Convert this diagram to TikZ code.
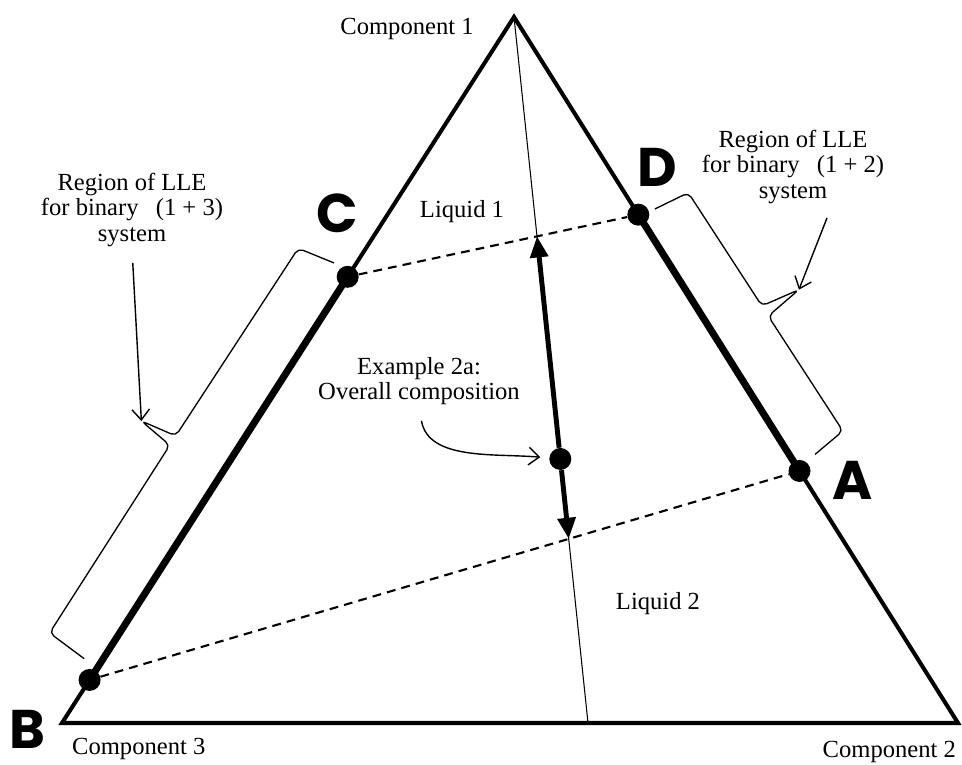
\documentclass[tikz,border=0pt]{standalone}
\usepackage{fontspec}
\setmainfont{Liberation Serif}
\newfontfamily\ptfont{Poppins}
\usetikzlibrary{calc,arrows.meta}

\begin{document}
\begin{tikzpicture}[x=0.02cm,y=0.02cm,
    edge/.style={line width=2.3pt,line join=miter},
    lle/.style={line width=4pt},
    tie/.style={line width=1.2pt,dash pattern=on 5pt off 3.5pt},
    dot/.style={circle,fill=black,inner sep=0pt,minimum size=0.44cm},
    ptlabel/.style={font=\ptfont\bfseries\fontsize{31}{31}\selectfont,inner sep=0pt},
    txt/.style={font=\fontsize{14}{14.5}\selectfont,align=center,inner sep=1pt},
    brace/.style={line width=0.75pt,rounded corners=3pt},
    pointer/.style={line width=0.8pt,-{Straight Barb[length=6pt,width=10pt]}},
    split/.style={line width=2.8pt,-{Triangle[length=12pt,width=10pt]}}]

\useasboundingbox (0,0) rectangle (962,764);

\coordinate (T) at (514,747);
\coordinate (BL) at (62,41);
\coordinate (BR) at (958,41);
\coordinate (M) at (588,41);

% triangle and line through overall composition
\draw[edge] (BL) -- (T) -- (BR) -- cycle;
\draw[line width=0.6pt] (T) -- (M);

% end points of the binary LLE regions
\coordinate (Bd) at ($(BL)!0.061!(T)$);
\coordinate (Cd) at ($(BL)!0.632!(T)$);
\coordinate (Dd) at ($(T)!0.28!(BR)$);
\coordinate (Ad) at ($(T)!0.643!(BR)$);
\coordinate (Od) at ($(T)!0.626!(M)$);

\draw[lle] (Bd) -- (Cd);
\draw[lle] (Dd) -- (Ad);

\node[dot] (bdot) at (Bd) {};
\node[dot] (cdot) at (Cd) {};
\node[dot] (ddot) at (Dd) {};
\node[dot] (adot) at (Ad) {};
\node[dot] (odot) at (Od) {};

% tie lines
\draw[tie] (cdot) -- (ddot);
\draw[tie] (bdot) -- (adot);
\coordinate (P1) at (intersection of T--M and Cd--Dd);
\coordinate (P2) at (intersection of T--M and Bd--Ad);
\draw[split] (odot) -- (P1);
\draw[split] (odot) -- (P2);

% brackets
\begin{scope}[shift={(Bd)},rotate=57.37]
    \draw[brace] (15,16) -- (18,59) -- (241,59) -- (246,96) -- (252,59) -- (476,57) -- (483,19);
    \coordinate (lt) at (246,96);
\end{scope}
\begin{scope}[shift={(Dd)},rotate=-57.83]
    \draw[brace] (4,17) -- (8,54) -- (143,56) -- (149,96) -- (155,56) -- (292,58) -- (297,22);
    \coordinate (rt) at (149,96);
\end{scope}

% labels
\node[ptlabel] (la) at (853,284) {A};
\node[ptlabel] (lb) at (27,35) {B};
\node[ptlabel] (lc) at (337,551) {C};
\node[ptlabel] (ld) at (657,597) {D};

\node[txt,anchor=base] (c1) at (407,729) {Component 1};
\node[txt,anchor=base west] (c3) at (70,10) {Component 3};
\node[txt,anchor=base east] (c2) at (958,7) {Component 2};
\node[txt,anchor=base] (liq1) at (462,546) {Liquid 1};
\node[txt,anchor=base] (liq2) at (658,155) {Liquid 2};

\node[txt] (ex) at (419,383) {Example 2a:\\Overall composition};
\node[txt] (lleL) at (132,554) {Region of LLE\\for binary\hspace{0.7em}(1 + 3)\\system};
\node[txt] (lleR) at (793,597) {Region of LLE\\for binary\hspace{0.7em}(1 + 2)\\system};
\coordinate (rs) at ($(lleR.south)+(34,-12)$);

\draw[pointer,shorten <=8pt] (lleL.south) -- (lt);
\draw[pointer] (rs) -- (rt);
\draw[pointer,shorten <=8pt,shorten >=5pt] (ex.south) to[out=-80,in=175] (odot);

\end{tikzpicture}
\end{document}
